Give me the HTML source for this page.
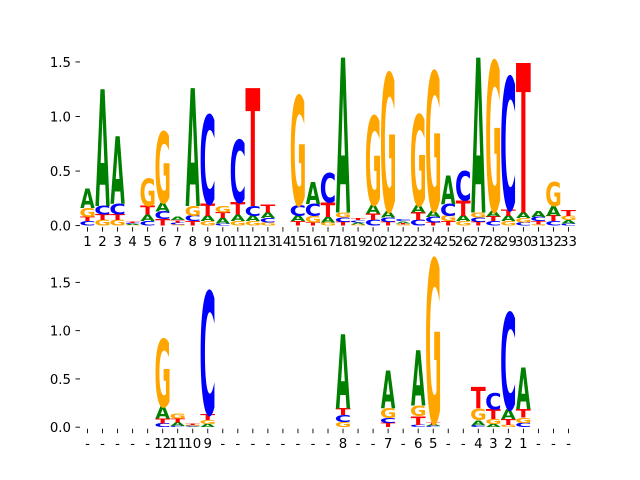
<!DOCTYPE html>
<html><head><meta charset="utf-8">
<style>
html,body{margin:0;padding:0;background:#fff;}
svg{display:block;}
text{font-family:"DejaVu Sans","Liberation Sans",sans-serif;}
</style></head>
<body>
<svg id="chart" width="640" height="480" viewBox="0 0 640 480" xmlns="http://www.w3.org/2000/svg">
<g id="top"></g>
<g id="bot"></g>
</svg>
<script>
const topLabels = ["1","2","3","4","5","6","7","8","9","10","11","12","13","14","15","16","17","18","19","20","21","22","23","24","25","26","27","28","29","30","31","32","33"];
const topA = [0.18,1.07,0.62,0.01,0.06,0.08,0.03,1.08,0.05,0.05,0.06,0.05,0.05,0.002,0.05,0.20,0.05,1.42,0.02,0.08,0.06,0.02,0.07,0.06,0.26,0.05,1.42,0.05,0.05,0.05,0.05,0.09,0.03];
const topC = [0.04,0.08,0.10,0.01,0.04,0.07,0.02,0.05,0.81,0.02,0.57,0.09,0.04,0.002,0.10,0.11,0.27,0.04,0.02,0.05,0.04,0.02,0.05,0.05,0.11,0.27,0.04,0.04,1.21,0.03,0.04,0.04,0.02];
const topG = [0.08,0.05,0.05,0.005,0.25,0.65,0.01,0.09,0.04,0.06,0.04,0.04,0.03,0.002,1.00,0.06,0.03,0.045,0.01,0.81,1.26,0.01,0.83,1.27,0.05,0.04,0.045,1.37,0.04,0.04,0.01,0.22,0.04];
const topT = [0.04,0.05,0.05,0.01,0.08,0.06,0.02,0.04,0.11,0.05,0.11,1.08,0.07,0.002,0.04,0.03,0.13,0.035,0.02,0.06,0.035,0.01,0.068,0.03,0.04,0.14,0.035,0.045,0.06,1.37,0.03,0.05,0.05];
const topTicks = [0.0,0.5,1.0,1.5];

const botLabels = ["-","-","-","-","-","12","11","10","9","-","-","-","-","-","-","-","-","8","-","-","7","-","6","5","-","-","4","3","2","1","-","-","-"];
const botA = [0,0,0,0,0,0.125,0.04,0.005,0.035,0,0,0,0,0,0,0,0,0.77,0,0,0.39,0,0.57,0.02,0,0,0.055,0.035,0.10,0.43,0,0,0];
const botC = [0,0,0,0,0,0.04,0.01,0.01,1.27,0,0,0,0,0,0,0,0,0.07,0,0,0.05,0,0.025,0.01,0,0,0.02,0.17,1.00,0.045,0,0,0];
const botG = [0,0,0,0,0,0.70,0.05,0.01,0.04,0,0,0,0,0,0,0,0,0.055,0,0,0.10,0,0.11,1.69,0,0,0.12,0.05,0.025,0.055,0,0,0];
const botT = [0,0,0,0,0,0.05,0.04,0.01,0.06,0,0,0,0,0,0,0,0,0.07,0,0,0.045,0,0.09,0.02,0,0,0.22,0.10,0.06,0.09,0,0,0];
const botTicks = [0.0,0.5,1.0,1.5];

const NS = "http://www.w3.org/2000/svg";
const COLORS = {A:"#008000",C:"#0000ff",G:"#ffa500",T:"#ff0000"};
const LSB = {A:0.005,C:0.05,G:0.05,T:0.015};
const INK = {A:0.765,C:0.64,G:0.71,T:0.655};

function drawPanel(g, y0, y1, ymax, labels, A, C, G, T, ticks, labelY) {
  const x0 = 80, x1 = 576, n = labels.length;
  const xs = i => x0 + (x1 - x0) * (i + 0.5) / n;
  const ys = v => y0 - (y0 - y1) * v / ymax;
  const colW = (x1 - x0) / n, w = colW * 0.95;
  ticks.forEach(t => {
    const l = document.createElementNS(NS, "line");
    
    
    l.setAttribute("x1", 75.5); l.setAttribute("x2", 80);
    l.setAttribute("y1", ys(t)); l.setAttribute("y2", ys(t));
    l.setAttribute("stroke", "#000"); l.setAttribute("stroke-width", "0.9");
    g.appendChild(l);
    const tx = document.createElementNS(NS, "text");
    
    
    tx.setAttribute("x", 71); tx.setAttribute("y", ys(t) + 5);
    tx.setAttribute("text-anchor", "end"); tx.setAttribute("font-size", "13.3");
    tx.textContent = t.toFixed(1);
    g.appendChild(tx);
  });
  for (let i = 0; i < n; i++) {
    const cx = xs(i);
    const l = document.createElementNS(NS, "line");
    
    
    l.setAttribute("x1", cx); l.setAttribute("x2", cx);
    l.setAttribute("y1", y0 + 1.5); l.setAttribute("y2", y0 + 6);
    l.setAttribute("stroke", "#000"); l.setAttribute("stroke-width", "0.9");
    g.appendChild(l);
    const tx = document.createElementNS(NS, "text");
    
    
    tx.setAttribute("x", cx); tx.setAttribute("y", labelY);
    tx.setAttribute("text-anchor", "middle"); tx.setAttribute("font-size", "13.3");
    tx.textContent = labels[i];
    g.appendChild(tx);
    const stack = [["A", A[i]], ["C", C[i]], ["G", G[i]], ["T", T[i]]].filter(s => s[1] > 0).sort((a, b) => a[1] - b[1]);
    let base = 0;
    stack.forEach(([L, h]) => {
      const yb = ys(base), yt = ys(base + h);
      const hp = yb - yt;
      base += h;
      if (hp < 0.3) return;
      const t = document.createElementNS(NS, "text");
      
      
      t.setAttribute("x", 0); t.setAttribute("y", 0);
      t.setAttribute("font-size", "100"); t.setAttribute("font-weight", "bold");
      t.setAttribute("fill", COLORS[L]);
      const sx = w / (INK[L] * 100), sy = hp / 72.9;
      const tx0 = cx - w / 2 - LSB[L] * 100 * sx;
      t.setAttribute("transform", `translate(${tx0},${yb}) scale(${sx},${sy})`);
      t.textContent = L;
      g.appendChild(t);
    });
  }
}
const topMax = Math.max(...topA.map((v, i) => v + topC[i] + topG[i] + topT[i]));
const botMax = Math.max(...botA.map((v, i) => v + botC[i] + botG[i] + botT[i]));
drawPanel(document.getElementById("top"), 225.6, 57.6, topMax, topLabels, topA, topC, topG, topT, topTicks, 246);
drawPanel(document.getElementById("bot"), 427.2, 259.2, botMax, botLabels, botA, botC, botG, botT, botTicks, 448);
</script>
</body></html>
